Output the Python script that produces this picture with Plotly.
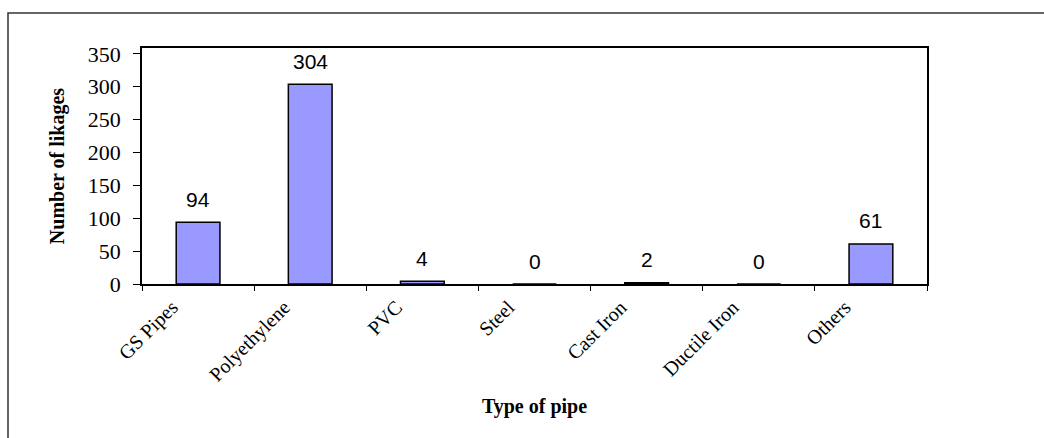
import plotly.graph_objects as go

categories = ["GS Pipes", "Polyethylene", "PVC", "Steel", "Cast Iron", "Ductile Iron", "Others"]
leakages = [94, 304, 4, 0, 2, 0, 61]
y_ticks = [0, 50, 100, 150, 200, 250, 300, 350]

SERIF = "Liberation Serif, Times New Roman, serif"
SANS = "Liberation Sans, Arial, sans-serif"

fig = go.Figure()
fig.add_trace(go.Bar(
    x=categories, y=leakages, width=0.39,
    marker=dict(color="#9999FF", line=dict(color="black", width=1.5)),
    showlegend=False, hoverinfo="x+y",
))

for c, v in zip(categories, leakages):
    fig.add_annotation(x=c, y=v, xref="x", yref="y", text=str(v), showarrow=False,
                       yanchor="middle", yshift=23,
                       font=dict(family=SANS, size=21, color="black"))

# outer chart border
L, R, T, B = 142, 117, 48, 154
pw, ph = 1044 - L - R, 438 - T - B
fig.add_shape(type="rect", xref="paper", yref="paper",
              x0=(8 - L) / pw, x1=(1060 - L) / pw,
              y0=(284 - 460) / ph, y1=(284 - 13) / ph,
              line=dict(color="#333333", width=1.5), layer="below")

fig.update_layout(
    width=1044, height=438,
    margin=dict(l=L, r=R, t=T, b=B, autoexpand=False),
    paper_bgcolor="white", plot_bgcolor="white",
    bargap=0.61,
)
fig.update_xaxes(
    type="category", tickson="boundaries", ticks="outside", ticklen=5, tickcolor="black",
    showline=True, linecolor="black", linewidth=1.5, mirror=True,
    showgrid=False, tickangle=-45,
    tickfont=dict(family=SERIF, size=20, color="black"),
    ticklabelshift=-26, ticklabelstandoff=2,
    title=dict(text="<b>Type of pipe</b>", font=dict(family=SERIF, size=20, color="black"), standoff=14),
    automargin=False,
)
fig.update_yaxes(
    range=[0, 359], tickvals=y_ticks, ticks="outside", ticklen=7, tickcolor="black",
    showline=True, linecolor="black", linewidth=1.5, mirror=True,
    showgrid=False, zeroline=False,
    tickfont=dict(family=SERIF, size=22, color="black"),
    ticklabelstandoff=8,
    title=dict(text="<b>Number of likages</b>", font=dict(family=SERIF, size=20, color="black"), standoff=18),
    automargin=False,
)

fig.write_html("out.html")
